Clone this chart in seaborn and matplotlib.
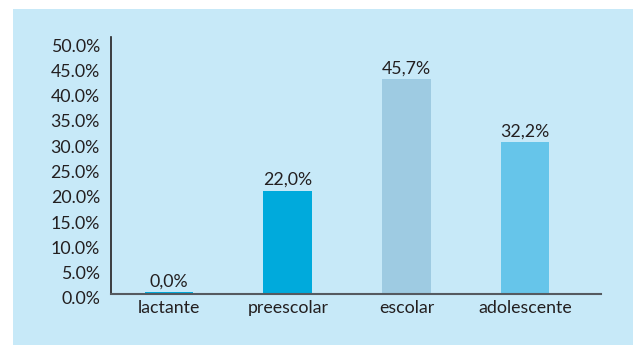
import matplotlib
matplotlib.use("Agg")
import matplotlib.pyplot as plt
import matplotlib.transforms as mtransforms
from matplotlib.patches import Rectangle
import seaborn as sns
import pandas as pd
import numpy as np

categories = ["lactante", "preescolar", "escolar", "adolescente"]
# bar heights as drawn against the axis in the picture
heights = [0.35, 20.4, 42.5, 30.0]
# value labels as printed above the bars
value_labels = ["0,0%", "22,0%", "45,7%", "32,2%"]
bar_colors = ["#00aadc", "#00aadc", "#9ecbe2", "#66c5ea"]
yticks = [0, 5, 10, 15, 20, 25, 30, 35, 40, 45, 50]
ytick_labels = [f"{t:.1f}%" for t in yticks]

sns.set_theme(style="white")
plt.rcParams["font.family"] = ["Lato", "DejaVu Sans"]

bg = "#c7e9f8"
fs = 12.8
fig = plt.figure(figsize=(6.38, 3.45), dpi=100)
fig.patch.set_facecolor("white")
fig.patches.append(Rectangle((13 / 638, 0), (633 - 13) / 638, 1 - 9 / 345,
                             transform=fig.transFigure, facecolor=bg,
                             edgecolor="none", zorder=-10))

ax = fig.add_axes([111 / 638, 1 - 294 / 345, (601 - 111) / 638, (294 - 37) / 345])
ax.set_facecolor("none")
ax.set_zorder(5)

df = pd.DataFrame({"cat": categories, "val": heights})
sns.barplot(data=df, x="cat", y="val", hue="cat", palette=bar_colors,
            width=0.41, legend=False, ax=ax, saturation=1, linewidth=0)

ax.set_xlim(-0.49, 3.64)
ax.set_ylim(0, 50.8)
ax.set_xlabel("")
ax.set_ylabel("")

for i, lab in enumerate(value_labels):
    ax.annotate(lab, (i, heights[i]), xytext=(0, 2), textcoords="offset points",
                ha="center", va="bottom", fontsize=fs, color="#231f20")

ax.set_yticks(yticks)
ax.set_yticklabels(ytick_labels, fontsize=fs, color="#231f20")
ax.tick_params(axis="y", length=0, pad=8)
ax.tick_params(axis="x", length=0, pad=4, labelsize=fs, labelcolor="#231f20")
offset = mtransforms.ScaledTranslation(0, -4 / 100, fig.dpi_scale_trans)
for lbl in ax.get_yticklabels():
    lbl.set_transform(lbl.get_transform() + offset)

for s in ["top", "right"]:
    ax.spines[s].set_visible(False)
ax.spines["left"].set_color("#231f20")
ax.spines["left"].set_linewidth(1.2)
ax.spines["bottom"].set_color("#555a60")
ax.spines["bottom"].set_linewidth(1.5)
ax.grid(False)

fig.savefig("out.png", dpi=100, facecolor="white")
